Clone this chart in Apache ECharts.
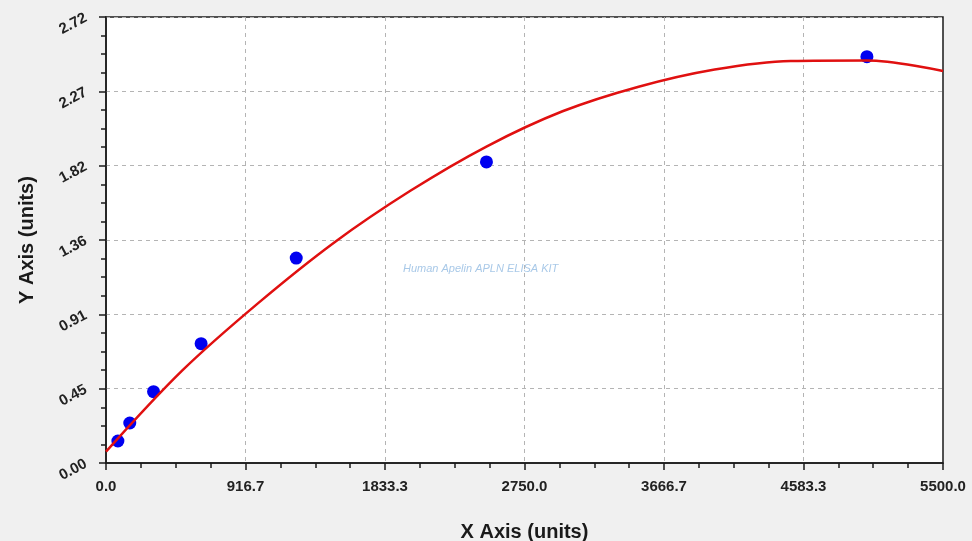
<!DOCTYPE html>
<html>
<head>
<meta charset="utf-8">
<style>
  html, body { margin: 0; padding: 0; background: #f0f0f0; }
  #chart { width: 972px; height: 541px; }
</style>
<script src="https://cdn.jsdelivr.net/npm/echarts@6/dist/echarts.min.js"></script>
</head>
<body>
<div id="chart"></div>
<script>
// Tick labels as printed on the reference
const xTickLabels = ['0.0', '916.7', '1833.3', '2750.0', '3666.7', '4583.3', '5500.0'];
const yTickLabels = ['0.00', '0.45', '0.91', '1.36', '1.82', '2.27', '2.72'];

// Measured standards (blue points)
const sampleX = [78.125, 156.25, 312.5, 625, 1250, 2500, 5000];
const sampleY = [0.134, 0.244, 0.435, 0.728, 1.250, 1.836, 2.478];

// Fitted curve (red line)
const curveX = [0, 500, 1000, 1500, 2000, 2500, 3000, 3500, 4000, 4500, 5000, 5500];
const curveY = [0.069, 0.563, 0.975, 1.345, 1.660, 1.930, 2.145, 2.295, 2.400, 2.452, 2.455, 2.391];

const xMax = 5500, yMax = 2.72;
const xStep = xMax / 6, yStep = yMax / 6;

const chart = echarts.init(document.getElementById('chart'), null, { renderer: 'canvas' });

const font = 'Liberation Sans, Arial, sans-serif';

chart.setOption({
  backgroundColor: '#f0f0f0',
  animation: false,
  grid: {
    left: 106, right: 29, top: 17, bottom: 78,
    outerBoundsMode: 'none', containLabel: false,
    show: true, backgroundColor: '#ffffff', borderColor: '#1a1a1a', borderWidth: 1.5
  },
  xAxis: {
    type: 'value', min: 0, max: xMax, interval: xStep,
    name: 'X Axis (units)', nameLocation: 'middle', nameGap: 59,
    nameTextStyle: { fontFamily: font, fontWeight: 'bold', fontSize: 20, color: '#1a1a1a' },
    axisLine: { show: true, lineStyle: { color: '#1a1a1a', width: 1.5 } },
    axisTick: { show: true, inside: false, length: 7, lineStyle: { color: '#1a1a1a', width: 1.5 } },
    minorTick: { show: true, splitNumber: 4, length: 5, lineStyle: { color: '#1a1a1a', width: 1.5 } },
    axisLabel: {
      margin: 16, fontFamily: font, fontWeight: 'bold', fontSize: 15, color: '#222222',
      formatter: v => xTickLabels[Math.round(v / xStep)]
    },
    splitLine: { show: true, showMinLine: false, showMaxLine: false, lineStyle: { color: '#b4b4b4', type: [4, 4], width: 1 } }
  },
  yAxis: {
    type: 'value', min: 0, max: yMax, interval: yStep,
    name: 'Y Axis (units)', nameLocation: 'middle', nameGap: 69, nameRotate: 90,
    nameTextStyle: { fontFamily: font, fontWeight: 'bold', fontSize: 20, color: '#1a1a1a' },
    axisLine: { show: true, lineStyle: { color: '#1a1a1a', width: 1.5 } },
    axisTick: { show: true, inside: false, length: 7, lineStyle: { color: '#1a1a1a', width: 1.5 } },
    minorTick: { show: true, splitNumber: 4, length: 5, lineStyle: { color: '#1a1a1a', width: 1.5 } },
    axisLabel: {
      margin: 20, rotate: 28, fontFamily: font, fontWeight: 'bold', fontSize: 15, color: '#222222',
      formatter: v => yTickLabels[Math.round(v / yStep)]
    },
    splitLine: { show: true, showMinLine: false, showMaxLine: false, lineStyle: { color: '#b4b4b4', type: [4, 4], width: 1 } }
  },
  graphic: [{
    type: 'text', left: 403, top: 263, z: 1,
    style: {
      text: 'Human Apelin APLN ELISA KIT', fill: '#a9c9e8',
      font: 'italic 11px ' + font
    }
  }],
  series: [
    {
      type: 'scatter', z: 2,
      data: sampleX.map((x, i) => [x, sampleY[i]]),
      symbol: 'circle', symbolSize: 13,
      itemStyle: { color: '#0000f0', opacity: 1 }
    },
    {
      type: 'line', z: 3,
      data: curveX.map((x, i) => [x, curveY[i]]),
      smooth: 0.35, showSymbol: false, symbol: 'none',
      lineStyle: { color: '#e01010', width: 2.5 }
    }
  ]
});
</script>
</body>
</html>
